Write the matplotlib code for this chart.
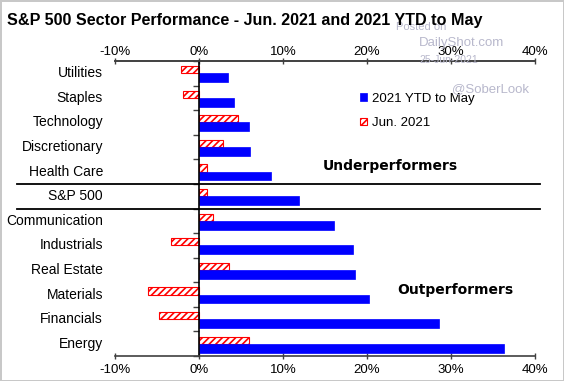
import matplotlib
matplotlib.use("Agg")
import matplotlib.pyplot as plt
import matplotlib.transforms as mtransforms
import numpy as np

plt.rcParams['font.family'] = ['Liberation Sans', 'DejaVu Sans']
plt.rcParams['hatch.color'] = '#FF0000'
plt.rcParams['hatch.linewidth'] = 1.2

categories = ["Utilities", "Staples", "Technology", "Discretionary", "Health Care",
              "S&P 500", "Communication", "Industrials", "Real Estate", "Materials",
              "Financials", "Energy"]
ytd_may = [3.4, 4.2, 5.95, 6.1, 8.6, 11.9, 16.1, 18.3, 18.6, 20.2, 28.6, 36.3]
jun_2021 = [-2.1, -1.9, 4.6, 2.9, 1.0, 1.0, 1.7, -3.3, 3.6, -6.1, -4.8, 5.95]
xticks = [-10, 0, 10, 20, 30, 40]
xticklabels = ["-10%", "0%", "10%", "20%", "30%", "40%"]

W, H = 564, 381
fig = plt.figure(figsize=(W / 100, H / 100), dpi=100)
ax = fig.add_axes([115 / W, 1 - 356 / H, 420 / W, 295 / H])

y = np.arange(len(categories))
ax.barh(y - 0.145, jun_2021, height=0.29, color='white', edgecolor='#FF0000',
        hatch='/////', linewidth=0.8, label='Jun. 2021', zorder=2)
ax.barh(y + 0.18, ytd_may, height=0.36, color='#0000FF', edgecolor='#0000FF',
        linewidth=0.5, label='2021 YTD to May', zorder=2)

ax.set_xlim(-10, 40)
ax.set_ylim(len(categories) - 0.5, -0.5)

ax.spines['right'].set_visible(False)
ax.spines['left'].set_position(('data', 0))
ax.spines['left'].set_color('black')
ax.spines['left'].set_linewidth(1.2)
for s in ['top', 'bottom']:
    ax.spines[s].set_color('#404040')
    ax.spines[s].set_linewidth(1.2)

ax.set_xticks(xticks)
ax.set_xticklabels(xticklabels)
ax.tick_params(axis='x', which='both', top=False, bottom=True, labeltop=False,
               labelbottom=True, direction='inout', length=5, width=1,
               color='#404040', labelsize=9.5, pad=3)
sec = ax.secondary_xaxis('top')
sec.set_xticks(xticks)
sec.set_xticklabels(xticklabels)
sec.spines['top'].set_color('#404040')
sec.spines['top'].set_linewidth(1.2)
sec.tick_params(axis='x', direction='inout', length=5, width=1, color='#404040',
                labelsize=9.5, pad=-0.5)

ax.set_yticks(np.arange(len(categories) + 1) - 0.5)
ax.set_yticklabels([])
ax.tick_params(axis='y', direction='out', length=4, width=1, color='#404040')

# category labels
tr = mtransforms.blended_transform_factory(ax.transAxes, ax.transData)
for i, c in enumerate(categories):
    ax.text(-12 / 420, i, c, transform=tr, ha='right', va='center', fontsize=10)

# separator lines
trf = mtransforms.blended_transform_factory(fig.transFigure, ax.transData)
for yy in [4.5, 5.5]:
    ax.plot([17 / W, 540 / W], [yy, yy], transform=trf, color='black', lw=1.3,
            clip_on=False, zorder=3)

# legend
handles, labels = ax.get_legend_handles_labels()
leg = ax.legend(handles[::-1], labels[::-1], loc='upper left',
                bbox_to_anchor=((348 - 115) / 420, 1 - (81 - 61) / 295),
                frameon=False, fontsize=9.5, handlelength=0.55, handleheight=0.5,
                handletextpad=0.35, labelspacing=0.95)

ax.text((323 - 115) / 420, 1 - (166 - 61) / 295, "Underperformers", transform=ax.transAxes,
        fontsize=10, fontweight='bold', va='center', ha='left', family='DejaVu Sans')
ax.text((397 - 115) / 420, 1 - (290 - 61) / 295, "Outperformers", transform=ax.transAxes,
        fontsize=10, fontweight='bold', va='center', ha='left', family='DejaVu Sans')

fig.text(7 / W, 1 - 21 / H, "S&P 500 Sector Performance - Jun. 2021 and 2021 YTD to May",
         fontsize=11.6, fontweight='bold', va='center', ha='left')

# watermark
wm = '#B8B8CC'
fig.text(396 / W, 1 - 27 / H, "Posted on", color=wm, fontsize=8, va='center', zorder=0)
fig.text(419 / W, 1 - 43 / H, "DailyShot.com", color=wm, fontsize=9.5, va='center')
fig.text(419 / W, 1 - 60 / H, "25-Jun-2021", color=wm, fontsize=7.5, va='center')
fig.text(452 / W, 1 - 89 / H, "@SoberLook", color=wm, fontsize=9.5, va='center')

fig.patch.set_edgecolor('#C8C8C8')
fig.patch.set_linewidth(2)

fig.savefig("out.png", dpi=100)
